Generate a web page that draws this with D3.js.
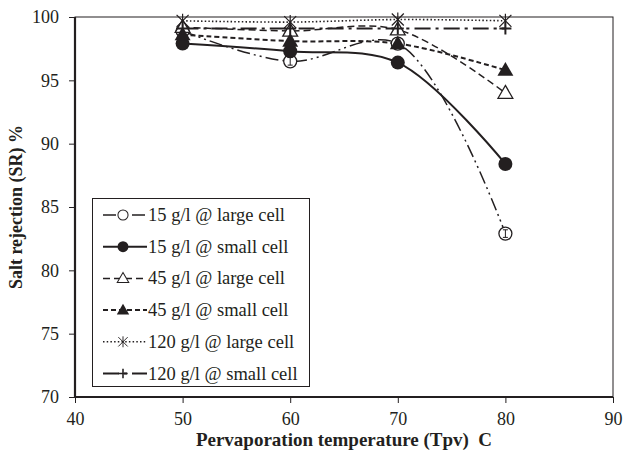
<!DOCTYPE html>
<html>
<head>
<meta charset="utf-8">
<script src="https://cdn.jsdelivr.net/npm/d3@7"></script>
<style>
  html, body { margin: 0; padding: 0; background: #fff; }
  svg { display: block; }
  text { font-family: "Liberation Serif", "Times New Roman", serif; fill: #231f20; white-space: pre; }
</style>
</head>
<body>
<svg id="chart" width="630" height="456"></svg>
<script>
// Pervaporation temperature (°C) on the x axis
const temperatures = [50, 60, 70, 80];

// Salt rejection (%) for each feed concentration / cell size
const sr15Large  = [98.9, 96.5, 97.9, 82.9];
const sr15Small  = [97.9, 97.3, 96.4, 88.4];
const sr45Large  = [99.2, 98.9, 99.0, 94.0];
const sr45Small  = [98.6, 98.1, 97.9, 95.8];
const sr120Large = [99.7, 99.6, 99.8, 99.7];
const sr120Small = [99.1, 99.1, 99.1, 99.1];

// Error half-widths for the 15 g/l large-cell series
const err15Large = [0.3, 0.3, 0.3, 0.3];

const seriesNames = [
  "15 g/l @ large cell",
  "15 g/l @ small cell",
  "45 g/l @ large cell",
  "45 g/l @ small cell",
  "120 g/l @ large cell",
  "120 g/l @ small cell"
];

const xTicks = [40, 50, 60, 70, 80, 90];
const yTicks = [70, 75, 80, 85, 90, 95, 100];

const series = [
  { name: seriesNames[0], values: sr15Large,  err: err15Large, marker: "circleOpen",  dash: "13,4,2,4,2,4", width: 1.5 },
  { name: seriesNames[1], values: sr15Small,  err: null,       marker: "circleFill",  dash: null,           width: 2 },
  { name: seriesNames[2], values: sr45Large,  err: null,       marker: "triOpen",     dash: "7,4",          width: 1.5 },
  { name: seriesNames[3], values: sr45Small,  err: null,       marker: "triFill",     dash: "5,3",          width: 2 },
  { name: seriesNames[4], values: sr120Large, err: null,       marker: "asterisk",    dash: "1.5,2.2",      width: 1.6 },
  { name: seriesNames[5], values: sr120Small, err: null,       marker: "plus",        dash: "16,5,3,5",     width: 2 }
];

const svg = d3.select("#chart");
const margin = { left: 75, right: 17, top: 17, bottom: 59 };
const W = 630, H = 456;

const x = d3.scaleLinear().domain([40, 90]).range([margin.left, W - margin.right]);
const y = d3.scaleLinear().domain([70, 100]).range([H - margin.bottom, margin.top]);

const ink = "#231f20";

// Plot frame: thin top/right edges
svg.append("rect")
  .attr("x", x(40)).attr("y", y(100))
  .attr("width", x(90) - x(40)).attr("height", y(70) - y(100))
  .attr("fill", "none").attr("stroke", ink).attr("stroke-width", 1);

// Axes
const xAxis = svg.append("g")
  .attr("transform", `translate(0,${y(70)})`)
  .call(d3.axisBottom(x).tickValues(xTicks).tickSize(6).tickPadding(9).tickFormat(d3.format("d")));
const yAxis = svg.append("g")
  .attr("transform", `translate(${x(40)},0)`)
  .call(d3.axisLeft(y).tickValues(yTicks).tickSize(6).tickPadding(10).tickFormat(d3.format("d")));

[xAxis, yAxis].forEach(g => {
  g.select(".domain").attr("stroke", ink).attr("stroke-width", 2.2);
  g.selectAll(".tick line").attr("stroke", ink).attr("stroke-width", 1);
  g.selectAll(".tick text")
    .attr("font-family", "Liberation Serif, serif")
    .attr("font-size", 18).attr("fill", ink);
});
yAxis.select(".domain").attr("d", `M0,${y(100)}V${y(70)}`);
xAxis.select(".domain").attr("d", `M${x(40)},0H${x(90)}`);

// Axis titles
svg.append("text")
  .attr("x", 344).attr("y", 446)
  .attr("text-anchor", "middle")
  .attr("font-size", 19).attr("font-weight", "bold")
  .text("Pervaporation temperature (Tpv)  C");

svg.append("text")
  .attr("transform", `translate(22,${(y(70) + y(100)) / 2}) rotate(-90)`)
  .attr("text-anchor", "middle")
  .attr("font-size", 18).attr("font-weight", "bold")
  .text("Salt rejection (SR) %");

// Marker drawing
function drawMarker(g, type) {
  const s = ink;
  switch (type) {
    case "circleOpen":
      g.append("circle").attr("r", 6.5).attr("fill", "#fff").attr("stroke", s).attr("stroke-width", 1.3);
      break;
    case "circleFill":
      g.append("circle").attr("r", 7).attr("fill", s);
      break;
    case "triOpen":
      g.append("path").attr("d", d3.symbol(d3.symbolTriangle, 95)()).attr("transform", "translate(0,1)")
        .attr("fill", "#fff").attr("stroke", s).attr("stroke-width", 1.3);
      break;
    case "triFill":
      g.append("path").attr("d", d3.symbol(d3.symbolTriangle, 110)()).attr("transform", "translate(0,1)")
        .attr("fill", s);
      break;
    case "asterisk": {
      const r = 6;
      g.append("path")
        .attr("d", `M${-r},${-r}L${r},${r}M${-r},${r}L${r},${-r}M0,${-r - 1}V${r + 1}`)
        .attr("stroke", s).attr("stroke-width", 1.2).attr("fill", "none");
      break;
    }
    case "plus": {
      const r = 6;
      g.append("path")
        .attr("d", `M${-r},0H${r}M0,${-r}V${r}`)
        .attr("stroke", s).attr("stroke-width", 2).attr("fill", "none");
      break;
    }
  }
}

const line = d3.line()
  .x((d, i) => x(temperatures[i]))
  .y(d => y(d))
  .curve(d3.curveCatmullRom.alpha(0.5));

const plot = svg.append("g");

series.forEach(sr => {
  plot.append("path")
    .datum(sr.values)
    .attr("d", line)
    .attr("fill", "none")
    .attr("stroke", ink)
    .attr("stroke-width", sr.width)
    .attr("stroke-dasharray", sr.dash);
});

series.forEach(sr => {
  sr.values.forEach((v, i) => {
    const g = plot.append("g").attr("transform", `translate(${x(temperatures[i])},${y(v)})`);
    drawMarker(g, sr.marker);
    if (sr.err) {
      const e = sr.err[i];
      const dy = y(v - e) - y(v);
      g.append("path")
        .attr("d", `M-2.5,${-dy}H2.5M0,${-dy}V${dy}M-2.5,${dy}H2.5`)
        .attr("stroke", ink).attr("stroke-width", 1).attr("fill", "none");
    }
  });
});

// Legend
const legend = svg.append("g");
legend.append("rect")
  .attr("x", 92.5).attr("y", 198.5).attr("width", 217).attr("height", 188)
  .attr("fill", "#fff").attr("stroke", ink).attr("stroke-width", 1);

series.forEach((sr, i) => {
  const cy = 215 + i * 31.7;
  const row = legend.append("g").attr("transform", `translate(0,${cy})`);
  row.append("line")
    .attr("x1", 103).attr("x2", 147).attr("y1", 0).attr("y2", 0)
    .attr("stroke", ink).attr("stroke-width", sr.width)
    .attr("stroke-dasharray", sr.dash);
  const m = row.append("g").attr("transform", "translate(123,0) scale(0.78)");
  drawMarker(m, sr.marker);
  row.append("text")
    .attr("x", 148).attr("y", 6)
    .attr("font-size", 18.5)
    .text(sr.name);
});
</script>
</body>
</html>
